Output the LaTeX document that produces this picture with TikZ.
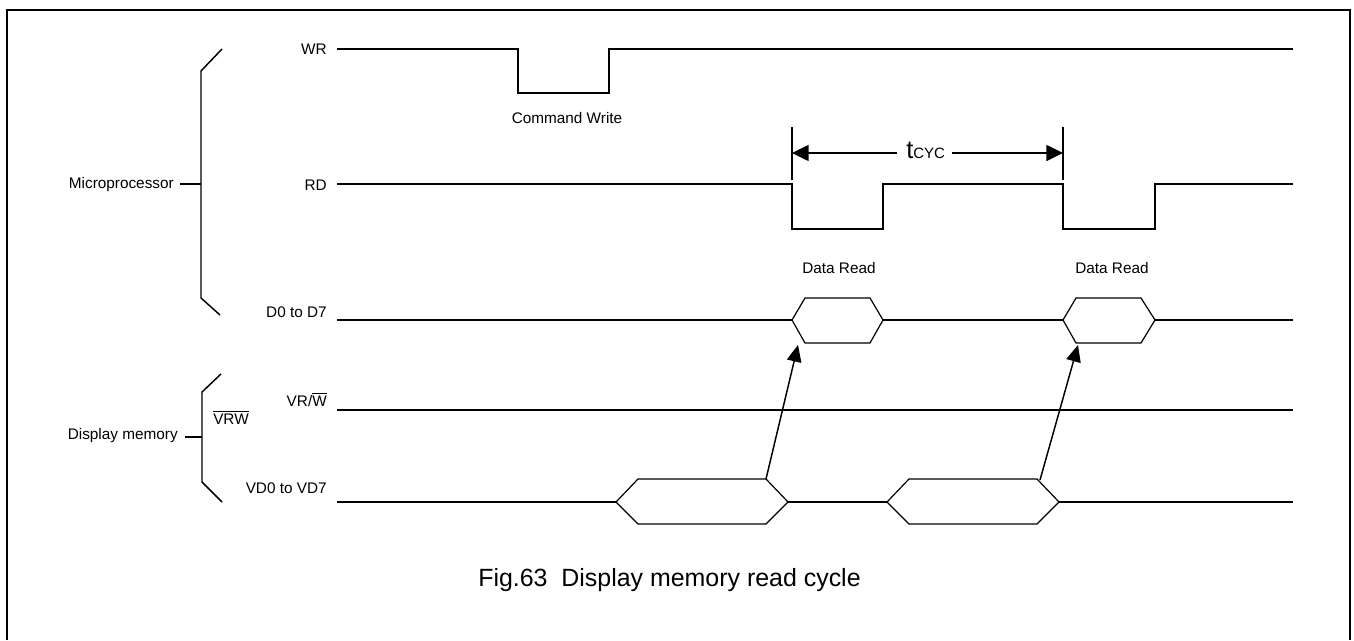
\documentclass[tikz,border=0pt]{standalone}
\usepackage{fontspec}
\setmainfont{Liberation Sans}
\usetikzlibrary{arrows.meta}
\newcommand{\olbar}[1]{$\overline{\hbox{#1}}$}
\begin{document}
\begin{tikzpicture}[x=0.75pt,y=-0.75pt,
  sig/.style={line width=1.5pt},
  hexa/.style={line width=0.9pt, line join=miter},
  brc/.style={line width=1.1pt},
  frm/.style={line width=1.5pt},
  lbl/.style={font=\fontsize{11.5pt}{13pt}\selectfont, inner sep=0pt},
  captxt/.style={font=\fontsize{18.7pt}{22pt}\selectfont, inner sep=0pt},
  dimarr/.style={line width=1.1pt, -{Triangle[length=12.5pt,width=12pt]}},
  rdarr/.style={line width=1.1pt, -{Triangle[length=12.5pt,width=11pt]}}
]
\useasboundingbox (0,0) rectangle (1354,640);
% frame
\draw[frm] (7,640) -- (7,10) -- (1350,10) -- (1350,640);

% braces
\draw[brc] (222,49) -- (201,71) -- (201,298) -- (220,315);
\draw[brc] (180,184) -- (201,184);
\draw[brc] (221,374) -- (202,392) -- (202,482) -- (222,502);
\draw[brc] (185,437) -- (202,437);

\node[lbl, anchor=base east] (micro) at (174,188) {Microprocessor};
\node[lbl, anchor=base east] (dispmem) at (178,439) {Display memory};
\node[lbl, anchor=base west] (vrw) at (213,424) {\olbar{VRW}};

% signal labels
\node[lbl, anchor=base east] (wr) at (327,54) {WR};
\node[lbl, anchor=base east] (rd) at (327,190) {RD};
\node[lbl, anchor=base east] (d07) at (327,317) {D0 to D7};
\node[lbl, anchor=base east] (vrwl) at (327,406) {VR/\olbar{W}};
\node[lbl, anchor=base east] (vd07) at (327,493) {VD0 to VD7};

% WR
\draw[sig] (337,49) -- (518,49) -- (518,93) -- (609,93) -- (609,49) -- (1293,49);
\node[lbl, anchor=base] (cw) at (567,123) {Command Write};

% RD
\draw[sig] (337,184) -- (792,184) -- (792,229) -- (883,229) -- (883,184)
  -- (1063,184) -- (1063,229) -- (1155,229) -- (1155,184) -- (1293,184);

% tcyc
\draw[brc] (792,127) -- (792,180);
\draw[brc] (1063,127) -- (1063,180);
\coordinate (tl) at (792,153);
\coordinate (tr) at (1063,153);
\node[inner sep=0pt, anchor=base west] (tcyc) at (906,158)
  {\fontsize{19pt}{20pt}\selectfont t\fontsize{11.25pt}{13pt}\selectfont CYC};
\draw[dimarr, shorten <=6.75pt] (tcyc.west |- tl) -- (tl);
\draw[dimarr, shorten <=5.25pt] (tcyc.east |- tr) -- (tr);

\node[lbl, anchor=base] (dr1) at (839,273) {Data Read};
\node[lbl, anchor=base] (dr2) at (1112,273) {Data Read};

% D0 to D7
\draw[sig] (337,320) -- (792,320);
\draw[hexa] (792,320) -- (805,298) -- (870,298) -- (883,320) -- (870,343) -- (805,343) -- cycle;
\draw[sig] (883,320) -- (1063,320);
\draw[hexa] (1063,320) -- (1076,298) -- (1141,298) -- (1155,320) -- (1141,343) -- (1076,343) -- cycle;
\draw[sig] (1155,320) -- (1293,320);
\coordinate (d1) at (798,345);
\coordinate (d2) at (1078,345);

% VR/W
\draw[sig] (337,409.5) -- (1293,409.5);

% VD0 to VD7
\draw[sig] (337,502) -- (616,502);
\draw[hexa] (616,502) -- (638,479) -- (766,479) -- (788,502) -- (766,524) -- (638,524) -- cycle;
\draw[sig] (788,502) -- (887,502);
\draw[hexa] (887,502) -- (909,479) -- (1037,479) -- (1059,502) -- (1037,524) -- (909,524) -- cycle;
\draw[sig] (1059,502) -- (1293,502);
\coordinate (v1) at (766,479);
\coordinate (v2) at (1040,480);

\draw[rdarr] (v1) -- (d1);
\draw[rdarr] (v2) -- (d2);

% caption
\node[captxt, anchor=base west] (caption) at (478,586) {Fig.63\ \ Display memory read cycle};
\end{tikzpicture}
\end{document}
